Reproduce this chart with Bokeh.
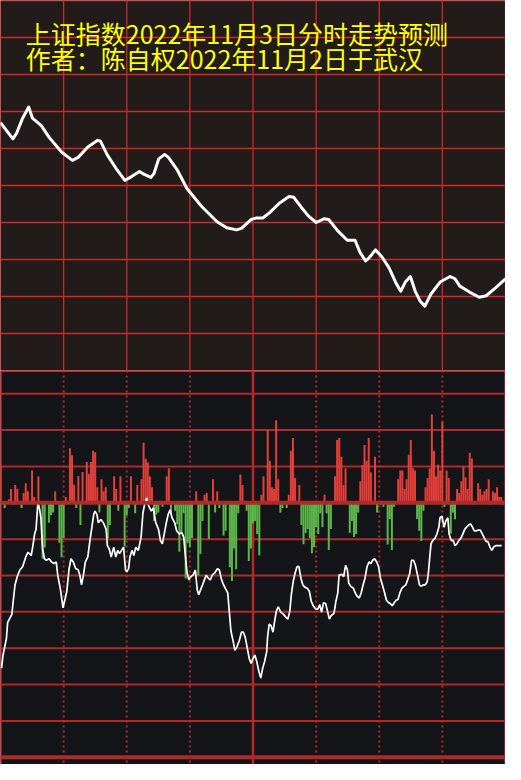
from bokeh.plotting import figure
from bokeh.layouts import column
from bokeh.models import Range1d, Span, Label
from bokeh.embed import file_html
from bokeh.resources import INLINE

# ---------------- data ----------------
title_1 = "上证指数2022年11月3日分时走势预测"
title_2 = "作者：陈自权2022年11月2日于武汉"

minute_ticks = [0, 30, 60, 90, 120, 150, 180, 210, 240]
dotted_minutes = [30, 60, 90, 150, 180, 210]
solid_minutes = [0, 120, 240]
top_value_ticks = [2995, 3000, 3005, 3010, 3015, 3020, 3025, 3030, 3035, 3040]
bottom_value_ticks = [300, 200, 100, -100, -200, -300, -400, -500, -600]

# predicted index curve (upper panel)
pred_minute = [0, 5.9, 7.7, 10.5, 13.4, 15.2, 19.4, 23.1, 29.1, 34.2, 36.9, 41.5, 46.2, 47.5,
               50.8, 55.4, 59.1, 62.3, 66.0, 68.3, 71.5, 72.9, 75.2, 78.0, 79.8, 84.0, 88.6,
               95.5, 102.9, 107.5, 112.2, 114.5, 119.1, 121.4, 124.6, 127.8, 132.5, 137.1,
               139.4, 143.1, 146.3, 150.0, 153.7, 156.0, 160.2, 164.8, 168.5, 170.8, 173.5,
               175.4, 178.2, 181.4, 184.6, 187.8, 190.2, 192.5, 194.8, 197.1, 199.4, 201.7,
               204.5, 209.1, 213.7, 216.0, 218.3, 222.9, 227.5, 230.8, 235.4, 240]
pred_value = [3023.5, 3021.3, 3022.1, 3024.1, 3025.6, 3024.1, 3023.1, 3021.5, 3019.5, 3018.4,
              3018.8, 3020.2, 3021.1, 3021.0, 3019.1, 3017.1, 3015.7, 3016.2, 3016.9, 3016.5,
              3016.1, 3016.6, 3018.6, 3019.2, 3018.8, 3017.1, 3014.6, 3012.2, 3010.1, 3009.3,
              3009.0, 3009.2, 3010.4, 3010.6, 3010.6, 3011.3, 3012.6, 3013.5, 3013.4, 3012.0,
              3010.9, 3010.0, 3010.5, 3010.4, 3008.9, 3007.6, 3007.6, 3006.0, 3004.8, 3005.3,
              3006.3, 3005.3, 3003.9, 3001.9, 3000.7, 3002.0, 3002.7, 3000.7, 2999.4, 2998.7,
              3000.3, 3002.0, 3002.7, 3002.4, 3001.4, 3000.6, 2999.9, 3000.1, 3001.2, 3002.4]

# bars (lower panel): minute and signed value
bar_minute = [0, 2, 4, 5, 6, 7, 8, 10, 11, 12, 13, 15, 16, 18, 20, 21, 23, 24, 25, 26, 28, 29,
              30, 31, 33, 34, 35, 36, 37, 38, 39, 41, 42, 43, 44, 45, 46, 47, 48, 49, 50, 51,
              52, 54, 55, 56, 57, 59,
              60, 61, 62, 64, 65, 66, 67, 68, 69, 70, 71, 72, 73, 74, 75, 77, 79, 80, 81, 83,
              84, 85, 86, 87, 88, 89, 90, 91, 93, 94, 95, 96, 97, 98, 99, 101, 102, 103, 104,
              106, 107, 109, 110, 111, 112, 113, 114, 115, 117, 118, 119, 120,
              121, 122, 123, 124, 125, 127, 128, 129, 130, 131, 132, 133, 134, 136, 137, 138,
              139, 140, 142, 143, 144, 145, 146, 147, 148, 149, 150, 151, 152, 153, 154, 155,
              156, 157, 159, 160, 161, 162, 163, 164, 166, 167, 168, 169, 170, 171, 172, 173,
              174, 175, 176, 178, 179,
              181, 182, 184, 185, 186, 187, 189, 190, 191, 192, 193, 194, 195, 196, 197, 198,
              199, 200, 201, 202, 203, 204, 205, 206, 207, 208, 209, 210, 211, 212, 213, 214,
              215, 216, 217, 218, 219, 220, 221, 222, 223, 224, 225, 227, 228, 229, 230, 231,
              232, 233, 234, 235, 236, 237, 238, 239]
bar_value = [103, -14, 10, 38, -5, 49, 38, -14, 27, 54, 32, 89, 16, 73, -154, -123, -55, -34,
             -27, 32, -110, -150, -97, 16, 150, 131, 50, -14, 74, -61, 85, 112, 79, 112, 143,
             139, 43, -27, 65, 32, 43, -97, -61, 73, 38, -22, 73, -120,
             -34, -14, 73, -29, 49, -5, 65, 165, 121, 111, 73, 43, -50, -32, -27, -11, 73, 95,
             -27, -22, -59, -135, -86, -29, -208, -110, -122, -97, 32, -200, -141, -50, 22, 27,
             -99, 65, -27, 32, -14, -90, -77, -177, -215, -126, -183, -29, 78, 49, -22, -160,
             -126, -56,
             -50, -86, -145, 22, 73, 200, 116, 43, 38, 227, 65, -27, -14, -14, 22, 143, 178, 68,
             49, -61, -114, -83, -72, -97, -139, -122, -67, -86, -29, -67, 22, -29, -130, -72,
             73, 173, 178, 127, 49, 95, -83, -50, -94, -86, -27, 59, 103, 159, 116, 178, 84,
             127, -27,
             -5, -11, -115, -45, -130, -11, 65, 89, 89, 38, 65, 132, 173, 95, 89, -45, -77, -105,
             -22, 43, 68, 95, 243, 143, 73, 105, 89, 222, -11, 89, 68, -85, -27, -45, 38, 27, 59,
             100, 70, 38, 138, 122, -5, 54, 38, 22, 32, 38, 65, -5, 32, 27, 43, 16, 16, -5]

# white line (lower panel)
flow_minute = [0.5, 1.2, 2.8, 3.4, 5.4, 6.2, 6.9, 8.0, 9.2, 10.5, 12.0, 13.1, 14.6, 15.4, 16.2,
               16.9, 17.8, 18.6, 19.2, 20.0, 20.9, 21.8, 23.1, 24.3, 25.4, 26.5, 27.2, 28.5,
               29.7, 30.8, 31.5, 32.6, 33.5, 34.6, 35.7, 36.9, 37.7, 38.5, 39.4, 40.3, 41.5,
               42.5, 43.4, 44.3, 44.9, 45.8, 46.5, 47.7, 48.9, 50.2, 50.8, 51.7, 52.6, 53.8,
               54.8, 55.7, 56.6, 57.5, 58.5, 59.4,
               60.0, 60.9, 61.5, 62.5, 63.4, 64.3, 65.5, 66.8, 67.7, 68.6, 69.5, 70.5, 71.7,
               72.6, 73.8, 75.1, 76.0, 76.9, 77.8, 78.8, 79.7, 80.6, 81.5, 82.8, 83.7, 84.9,
               86.2, 87.1, 87.7, 88.6, 89.5, 90.5, 91.5, 92.6, 93.5, 94.2, 95.1, 96.0, 96.9,
               97.8, 98.8, 99.7, 100.6, 101.8, 103.1, 104.0, 104.9, 105.8, 106.8, 108.0, 108.9,
               109.5, 110.5, 111.4, 112.3, 113.5, 114.5, 115.4, 116.3, 117.2, 118.2, 119.1,
               120.0,
               120.9, 121.8, 122.8, 123.7, 124.6, 125.5, 126.5, 126.9, 127.7, 128.6, 129.5,
               130.2, 131.1, 132.0, 133.2, 134.5, 135.4, 136.6, 137.5, 138.2, 139.1, 140.0,
               140.9, 141.8, 142.8, 143.7, 144.6, 145.8, 146.8, 147.7, 148.6, 149.8, 150.8,
               151.7, 152.6, 153.5, 154.5, 155.4, 156.3, 157.2, 158.5, 159.4, 160.3, 160.9,
               162.2, 163.1, 164.0, 164.9, 165.5, 166.5, 167.7, 168.6, 169.5, 170.5, 171.4,
               172.3, 173.2, 174.2, 175.1, 176.0, 176.9, 177.8, 178.8, 179.7,
               180.6, 181.5, 182.5, 183.4, 184.3, 185.2, 186.2, 187.1, 188.0, 188.9, 189.8,
               190.8, 191.7, 192.6, 193.5, 194.5, 195.4, 196.3, 197.2, 198.2, 199.1, 200.0,
               200.9, 201.8, 202.8, 203.4, 204.0, 204.6, 205.5, 206.5, 207.4, 208.3, 208.9,
               209.8, 210.8, 211.7, 212.6, 213.2, 214.2, 215.1, 216.0, 216.9, 217.8, 218.8,
               219.7, 220.6, 221.5, 222.5, 223.4, 224.3, 225.2, 226.2, 227.1, 228.0, 228.9,
               229.8, 230.8, 231.7, 232.6, 233.5, 234.5, 235.4, 236.3, 237.2, 238.2]
flow_value = [-455, -419, -374, -329, -307, -262, -226, -202, -185, -176, -149, -136, -145, -118,
              -86, -73, 4, -19, -41, -127, -154, -158, -154, -163, -167, -163, -199, -239, -289,
              -262, -244, -181, -154, -163, -181, -184, -199, -226, -199, -163, -149, -104, -68,
              -32, -23, -32, -55, -46, -55, -73, -118, -127, -149, -122, -149, -131, -140, -131,
              -122, -185,
              -190, -181, -149, -131, -145, -122, -131, -95, -28, -1, 13, -10, -23, -14, -55,
              -73, -104, -113, -86, -55, -32, -19, -41, -55, -77, -86, -82, -95, -136, -190,
              -212, -203, -199, -185, -239, -253, -239, -226, -212, -199, -208, -212, -199,
              -193, -181, -185, -208, -223, -235, -248, -311, -352, -379, -406, -397, -379,
              -356, -356, -370, -397, -428, -442, -428,
              -419, -437, -464, -482, -455, -437, -410, -370, -334, -338, -356, -329, -298,
              -286, -301, -307, -313, -320, -298, -253, -217, -193, -176, -175, -208, -226,
              -232, -235, -244, -271, -283, -292, -293, -280, -301, -275, -277, -298, -320,
              -310, -304, -271, -248, -199, -197, -203, -172, -185, -221, -230, -235, -248,
              -257, -262, -248, -226, -208, -176, -163, -167, -158, -154, -163, -176,
              -208, -226, -247, -268, -274, -277, -283, -275, -268, -266, -248, -235, -230,
              -226, -212, -194, -158, -158, -172, -199, -226, -230, -226, -226, -217, -190,
              -149, -113, -103, -97, -86, -68, -41, -37, -67, -49, -41, -86, -104, -103, -118,
              -113, -104, -97, -86, -73, -67, -61, -58, -67, -77, -77, -75, -75, -85, -95,
              -106, -107, -122, -131, -121, -118, -118, -118, -118]

# ---------------- styling ----------------
W = 505
H_TOP = 370
H_BOT = 394
TOP_BG = "#211b19"
BOT_BG = "#141518"
TOP_GRID = "#d02828"
BOT_GRID = "#b02a2a"
RED = "#e4403a"
GREEN = "#5cb84c"
YELLOW = "#ffff00"

p1 = figure(width=W, height=H_TOP, x_range=Range1d(0, 240), y_range=Range1d(2990, 3040),
            output_backend="svg", toolbar_location=None, min_border=0,
            background_fill_color=TOP_BG, border_fill_color=TOP_BG, outline_line_color=None)
p1.axis.visible = False
p1.grid.visible = False
for m in minute_ticks:
    p1.add_layout(Span(location=m, dimension="height", line_color=TOP_GRID, line_width=1.3,
                       level="underlay"))
for v in top_value_ticks:
    p1.add_layout(Span(location=v, dimension="width", line_color=TOP_GRID, line_width=1.3,
                       level="underlay"))
p1.line(pred_minute, pred_value, line_color="white", line_width=3, line_join="round")
p1.add_layout(Label(x=12, y=3038.1, text=title_1, text_color=YELLOW, text_font_size="25px",
                    text_font="Noto Sans CJK SC", text_baseline="top"))
p1.add_layout(Label(x=12, y=3034.6, text=title_2, text_color=YELLOW, text_font_size="25px",
                    text_font="Noto Sans CJK SC", text_baseline="top"))

p2 = figure(width=W, height=H_BOT, x_range=Range1d(0, 240), y_range=Range1d(-720, 364),
            output_backend="svg", toolbar_location=None, min_border=0,
            background_fill_color=BOT_BG, border_fill_color=BOT_BG, outline_line_color=None)
p2.axis.visible = False
p2.grid.visible = False
for v in bottom_value_ticks:
    p2.add_layout(Span(location=v, dimension="width", line_color=BOT_GRID, line_width=2,
                       level="underlay"))
p2.add_layout(Span(location=-700, dimension="width", line_color=BOT_GRID, line_width=4,
                   level="underlay"))
p2.add_layout(Span(location=364, dimension="width", line_color=TOP_GRID, line_width=3))
for m in dotted_minutes:
    p2.add_layout(Span(location=m, dimension="height", line_color=BOT_GRID, line_width=2,
                       line_dash="2 3", level="underlay"))
for m in solid_minutes:
    p2.add_layout(Span(location=m, dimension="height", line_color=BOT_GRID, line_width=2.5,
                       level="underlay"))

up_x = [m for m, v in zip(bar_minute, bar_value) if v > 0]
up_v = [v for v in bar_value if v > 0]
dn_x = [m for m, v in zip(bar_minute, bar_value) if v < 0]
dn_v = [v for v in bar_value if v < 0]
p2.vbar(x=up_x, top=up_v, bottom=0, width=0.95, fill_color=RED, line_color=None)
p2.vbar(x=dn_x, top=dn_v, bottom=0, width=0.95, fill_color=GREEN, line_color=None)
p2.add_layout(Span(location=0, dimension="width", line_color=BOT_GRID, line_width=4))
p2.line(flow_minute, flow_value, line_color="white", line_width=1.7)

layout = column(p1, p2, spacing=0)
open("out.html", "w").write(file_html(layout, INLINE))
